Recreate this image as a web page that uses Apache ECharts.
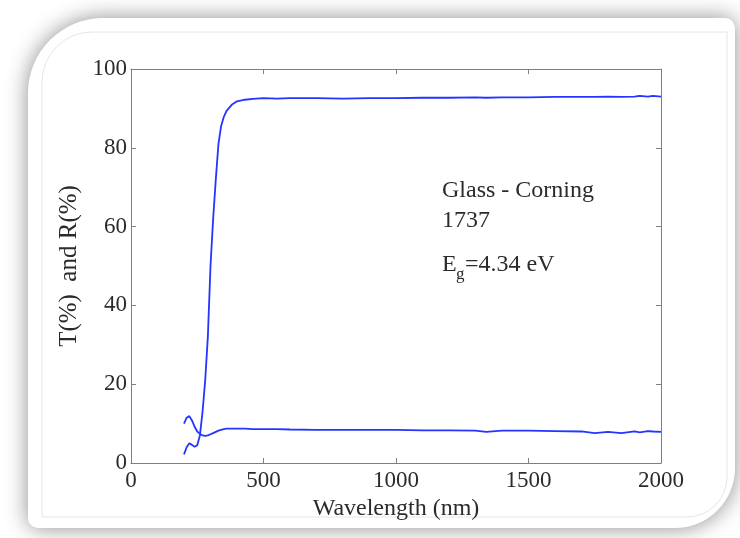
<!DOCTYPE html>
<html>
<head>
<meta charset="utf-8">
<script src="https://cdn.jsdelivr.net/npm/echarts@6/dist/echarts.min.js"></script>
<style>
  html, body { margin: 0; padding: 0; background: #fff; }
  #chart { width: 740px; height: 538px; }
</style>
</head>
<body>
<div id="chart"></div>
<script>
// wavelength (nm)
var wavelength = [200, 210, 220, 230, 240, 250, 260, 270, 280, 290, 300, 310, 320, 330, 340, 350, 360, 380, 400, 430, 460, 500,
  550, 600, 700, 800, 900, 1000, 1100, 1200, 1300, 1340, 1400, 1500, 1600, 1700, 1750, 1800, 1850, 1900, 1920, 1950, 1970, 2000]
// transmittance T(%)
var transT = [2.2, 4.0, 5.0, 4.6, 4.1, 4.5, 7.0, 13, 21, 32, 50, 62, 72, 81, 85.5, 87.8, 89.3, 90.9, 91.8, 92.2, 92.4, 92.6,
  92.5, 92.6, 92.6, 92.5, 92.6, 92.6, 92.7, 92.7, 92.8, 92.7, 92.8, 92.8, 92.9, 92.9, 92.9, 93.0, 92.9, 93.0, 93.2, 93.0, 93.2, 93.0]
// reflectance R(%)
var reflR = [10.0, 11.5, 11.9, 10.8, 9.2, 8.0, 7.4, 7.0, 6.9, 7.0, 7.3, 7.6, 7.9, 8.2, 8.4, 8.6, 8.7, 8.7, 8.7, 8.7, 8.6, 8.6,
  8.6, 8.5, 8.4, 8.4, 8.4, 8.4, 8.3, 8.3, 8.2, 7.9, 8.2, 8.2, 8.1, 8.0, 7.6, 7.9, 7.6, 8.0, 7.8, 8.1, 8.0, 7.9]

var xTicks = [0, 500, 1000, 1500, 2000]
var yTicks = [0, 20, 40, 60, 80, 100]

var labelText = ['Glass - Corning', '1737']

function pairs(xs, ys) {
  return xs.map(function (x, i) { return [x, ys[i]] })
}

var font = '"Liberation Serif", "Times New Roman", serif'
var axisColor = '#7f7f7f'
var lineColor = '#2335ff'
var textColor = '#2b2b2b'

var chart = echarts.init(document.getElementById('chart'))

var axisBase = {
  min: 0,
  axisLine: {show: true, onZero: false, lineStyle: {color: axisColor, width: 1}},
  axisTick: {show: true, inside: true, length: 5, lineStyle: {color: axisColor}},
  splitLine: {show: false}
}

chart.setOption({
  animation: false,
  backgroundColor: '#fff',
  grid: {left: 131, right: 79, top: 69, bottom: 75},
  xAxis: [
    Object.assign({}, axisBase, {
      type: 'value', position: 'bottom', max: xTicks[xTicks.length - 1], interval: 500,
      name: 'Wavelength (nm)', nameLocation: 'middle', nameGap: 24,
      nameTextStyle: {fontFamily: font, fontSize: 24, color: textColor},
      axisLabel: {fontFamily: font, fontSize: 23, color: textColor, margin: 6,
        formatter: function (v) { return String(v) }}
    }),
    Object.assign({}, axisBase, {
      type: 'value', position: 'top', max: xTicks[xTicks.length - 1], interval: 500,
      axisLabel: {show: false}
    })
  ],
  yAxis: [
    Object.assign({}, axisBase, {
      type: 'value', position: 'left', max: yTicks[yTicks.length - 1], interval: 20,
      name: 'T(%)  and R(%)', nameLocation: 'middle', nameGap: 44,
      nameTextStyle: {fontFamily: font, fontSize: 25, color: textColor},
      axisLabel: {fontFamily: font, fontSize: 23, color: textColor, margin: 4}
    }),
    Object.assign({}, axisBase, {
      type: 'value', position: 'right', max: yTicks[yTicks.length - 1], interval: 20,
      axisLabel: {show: false}
    })
  ],
  series: [
    {
      type: 'line', name: 'T', data: pairs(wavelength, transT),
      showSymbol: false, lineStyle: {color: lineColor, width: 1.8}
    },
    {
      type: 'line', name: 'R', data: pairs(wavelength, reflR),
      showSymbol: false, lineStyle: {color: lineColor, width: 1.8}
    }
  ],
  graphic: [
    {
      type: 'rect', z: -10, silent: true,
      shape: {x: 28, y: 18, width: 707, height: 510, r: [75, 10, 60, 10]},
      style: {fill: '#fff', shadowBlur: 22, shadowColor: 'rgba(0,0,0,0.45)'}
    },
    {
      type: 'rect', z: -9, silent: true,
      shape: {x: 42, y: 32, width: 685, height: 485, r: [50, 0, 40, 0]},
      style: {fill: 'none', stroke: '#e6e6e6', lineWidth: 1}
    },
    {
      type: 'text', left: 442, top: 179, z: 100,
      style: {text: labelText[0], font: '24px ' + font, fill: textColor}
    },
    {
      type: 'text', left: 442, top: 209, z: 100,
      style: {text: labelText[1], font: '24px ' + font, fill: textColor}
    },
    {
      type: 'text', left: 442, top: 253, z: 100,
      style: {text: 'E', font: '24px ' + font, fill: textColor}
    },
    {
      type: 'text', left: 456, top: 266, z: 100,
      style: {text: 'g', font: '17px ' + font, fill: textColor}
    },
    {
      type: 'text', left: 465, top: 253, z: 100,
      style: {text: '=4.34 eV', font: '24px ' + font, fill: textColor}
    }
  ]
})
</script>
</body>
</html>
